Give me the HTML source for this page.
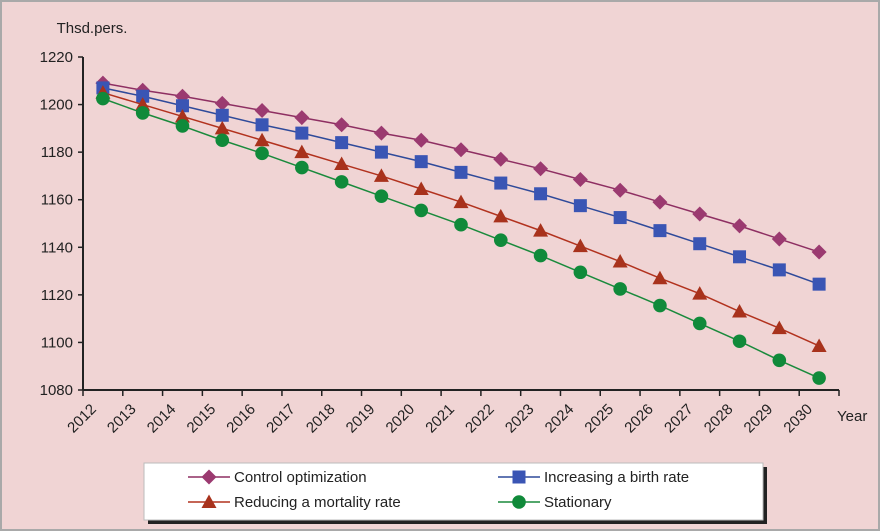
<!DOCTYPE html>
<html><head><meta charset="utf-8"><style>
html,body{margin:0;padding:0;background:#f0d4d4}
svg{display:block;font-family:"Liberation Sans",sans-serif}
</style></head><body>
<svg width="880" height="531" viewBox="0 0 880 531">
<rect x="1" y="1" width="878" height="529" fill="#f0d4d4" stroke="#a9a9a9" stroke-width="2"/>
<text x="92" y="33" font-size="15" text-anchor="middle" fill="#222">Thsd.pers.</text>
<text x="837" y="421" font-size="15" fill="#222">Year</text>
<g id="axes"></g>
<g id="series"></g>
<g>
<rect x="148" y="467" width="619" height="57" fill="#222"/>
<rect x="144" y="463" width="619" height="57" fill="#fff" stroke="#bbb"/>
<g id="legend"></g>
</g>
</svg>
<script>
const categories=["2012","2013","2014","2015","2016","2017","2018","2019","2020","2021","2022","2023","2024","2025","2026","2027","2028","2029","2030"];
const yTicks=[1080,1100,1120,1140,1160,1180,1200,1220];
const controlOpt=[1209,1206,1203.5,1200.5,1197.5,1194.5,1191.5,1188,1185,1181,1177,1173,1168.5,1164,1159,1154,1149,1143.5,1138];
const birthRate=[1207,1203.5,1199.5,1195.5,1191.5,1188,1184,1180,1176,1171.5,1167,1162.5,1157.5,1152.5,1147,1141.5,1136,1130.5,1124.5];
const mortality=[1205,1200,1195,1190,1185,1180,1175,1170,1164.5,1159,1153,1147,1140.5,1134,1127,1120.5,1113,1106,1098.5];
const stationary=[1202.5,1196.5,1191,1185,1179.5,1173.5,1167.5,1161.5,1155.5,1149.5,1143,1136.5,1129.5,1122.5,1115.5,1108,1100.5,1092.5,1085];
const seriesNames=["Control optimization","Increasing a birth rate","Reducing a mortality rate","Stationary"];

const NS="http://www.w3.org/2000/svg";
const X0=83,X1=839,Y0=390,Y1=57,YMIN=1080,YMAX=1220;
const bw=(X1-X0)/categories.length;
const xPos=i=>X0+bw*(i+0.5);
const yPos=v=>Y0-(v-YMIN)/(YMAX-YMIN)*(Y0-Y1);
function mk(t,a,p){const e=document.createElementNS(NS,t);for(const k in a)e.setAttribute(k,a[k]);p.appendChild(e);return e;}
const ax=document.getElementById('axes');
let e=mk('line',{x1:X0,y1:Y1,x2:X0,y2:Y0,stroke:'#222','stroke-width':2},ax);


e=mk('line',{x1:X0,y1:Y0,x2:X1,y2:Y0,stroke:'#222','stroke-width':2},ax);


yTicks.forEach(v=>{
  mk('line',{x1:X0-5,y1:yPos(v),x2:X0,y2:yPos(v),stroke:'#222','stroke-width':1.5},ax);
  const t=mk('text',{x:X0-10,y:yPos(v)+5,'font-size':15,'text-anchor':'end',fill:'#222'},ax);
  t.textContent=v;
  
  
});
for(let i=0;i<=categories.length;i++){
  const x=X0+bw*i;
  mk('line',{x1:x,y1:Y0,x2:x,y2:Y0+6,stroke:'#222','stroke-width':1.5},ax);
}
categories.forEach((c,i)=>{
  const x=X0+bw*i+14,y=Y0+20;
  const t=mk('text',{x:x,y:y,'font-size':15,'text-anchor':'end',fill:'#222',transform:`rotate(-45 ${x} ${y})`},ax);
  t.textContent=c;
  
  
});
const styles=[
 {data:controlOpt,color:'#8e2f62',fill:'#9b3a70',m:'diamond'},
 {data:birthRate,color:'#2f4a9a',fill:'#3a55b4',m:'square'},
 {data:mortality,color:'#b2321e',fill:'#a8321c',m:'triangle'},
 {data:stationary,color:'#1a8a3c',fill:'#108a3a',m:'circle'}];
function marker(g,m,x,y,fill){
  let el;
  if(m==='diamond')el=mk('polygon',{points:`${x},${y-7.5} ${x+7.5},${y} ${x},${y+7.5} ${x-7.5},${y}`,fill:fill},g);
  else if(m==='square')el=mk('rect',{x:x-6.5,y:y-6.5,width:13,height:13,fill:fill},g);
  else if(m==='triangle')el=mk('polygon',{points:`${x},${y-7.5} ${x+7.5},${y+6} ${x-7.5},${y+6}`,fill:fill},g);
  else el=mk('circle',{cx:x,cy:y,r:6.8,fill:fill},g);
  return el;
}
const sg=document.getElementById('series');
styles.forEach((s,si)=>{
  const g=mk('g',{},sg);
  
  
  const l=mk('polyline',{points:s.data.map((v,i)=>xPos(i)+','+yPos(v)).join(' '),fill:'none',stroke:s.color,'stroke-width':1.5},g);
  
  
  s.data.forEach((v,i)=>{
    const p=marker(g,s.m,xPos(i),yPos(v),s.fill);
    
    
  });
});
const lg=document.getElementById('legend');
const lpos=[[188,477],[498,477],[188,502],[498,502]];
styles.forEach((s,si)=>{
  const [x,y]=lpos[si];
  const g=mk('g',{},lg);
  
  
  mk('line',{x1:x,y1:y,x2:x+42,y2:y,stroke:s.color,'stroke-width':1.5},g);
  marker(g,s.m,x+21,y,s.fill);
  const t=mk('text',{x:x+46,y:y+5,'font-size':15,fill:'#222'},g);
  t.textContent=seriesNames[si];
});
</script>
</body></html>
